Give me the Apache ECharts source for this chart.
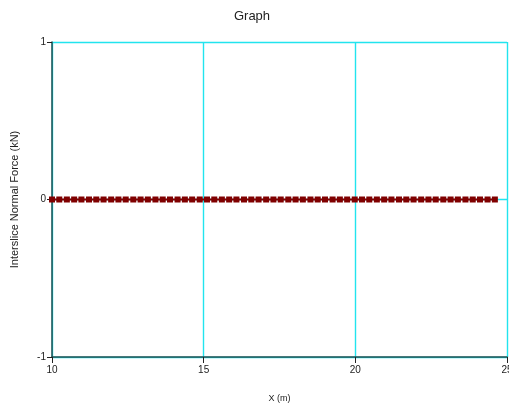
<!DOCTYPE html>
<html>
<head>
<meta charset="utf-8">
<script src="https://cdn.jsdelivr.net/npm/echarts@6/dist/echarts.min.js"></script>
<style>
  html, body { margin: 0; padding: 0; background: #fff; }
  #main { width: 509px; height: 410px; }
</style>
</head>
<body>
<div id="main"></div>
<script>
// slice x positions (m)
var xValues = [10, 10.24, 10.49, 10.73, 10.97, 11.22, 11.46, 11.70, 11.95, 12.19, 12.43,
  12.68, 12.92, 13.16, 13.41, 13.65, 13.89, 14.14, 14.38, 14.62, 14.87, 15.11, 15.35,
  15.60, 15.84, 16.08, 16.33, 16.57, 16.81, 17.06, 17.30, 17.54, 17.79, 18.03, 18.27,
  18.52, 18.76, 19.00, 19.25, 19.49, 19.73, 19.98, 20.22, 20.46, 20.71, 20.95, 21.19,
  21.44, 21.68, 21.92, 22.17, 22.41, 22.65, 22.90, 23.14, 23.38, 23.63, 23.87, 24.11,
  24.36, 24.60];
// interslice normal force (kN)
var forceValues = [0, 0, 0, 0, 0, 0, 0, 0, 0, 0, 0, 0, 0, 0, 0, 0, 0, 0, 0, 0, 0, 0, 0,
  0, 0, 0, 0, 0, 0, 0, 0, 0, 0, 0, 0, 0, 0, 0, 0, 0, 0, 0, 0, 0, 0, 0, 0, 0, 0, 0, 0, 0,
  0, 0, 0, 0, 0, 0, 0, 0, 0];

var points = xValues.map(function (x, i) { return [x, forceValues[i]]; });

var font = 'Liberation Sans, Arial, sans-serif';
var gridColor = '#22e4ee';
var axisColor = '#1f4f50';

var myChart = echarts.init(document.getElementById('main'));
myChart.setOption({
  animation: false,
  title: {
    text: 'Graph',
    left: 247,
    textAlign: 'center',
    top: 5,
    textStyle: { fontFamily: font, fontSize: 13, fontWeight: 'normal', color: '#222' }
  },
  grid: { left: 52, right: 2, top: 42, bottom: 53, outerBoundsMode: 'none', containLabel: false },
  xAxis: {
    type: 'value',
    min: 10,
    max: 25,
    interval: 5,
    name: 'X (m)',
    nameLocation: 'middle',
    nameGap: 37,
    nameTextStyle: { fontFamily: font, fontSize: 9, color: '#222' },
    axisLine: { show: true, onZero: false, lineStyle: { color: axisColor, width: 1.5 } },
    axisTick: { show: true, length: 6, lineStyle: { color: '#222' } },
    axisLabel: { fontFamily: font, fontSize: 10, color: '#222', margin: 8 },
    splitLine: { show: true, showMinLine: true, showMaxLine: true,
      lineStyle: { color: gridColor, width: 1.4 } }
  },
  yAxis: {
    type: 'value',
    min: -1,
    max: 1,
    interval: 1,
    name: 'Interslice Normal Force (kN)',
    nameLocation: 'middle',
    nameGap: 32,
    nameTextStyle: { fontFamily: font, fontSize: 11, color: '#222' },
    axisLine: { show: true, onZero: false, lineStyle: { color: axisColor, width: 1.5 } },
    axisTick: { show: true, length: 5, lineStyle: { color: '#222' } },
    axisLabel: { fontFamily: font, fontSize: 10, color: '#222', margin: 6 },
    splitLine: { show: true, showMinLine: true, showMaxLine: true,
      lineStyle: { color: gridColor, width: 1.4 } }
  },
  series: [
    {
      type: 'line',
      data: points,
      symbol: 'rect',
      symbolSize: 6,
      lineStyle: { color: '#7a0000', width: 2 },
      itemStyle: { color: '#800000' },
      z: 5
    }
  ]
});
</script>
</body>
</html>
